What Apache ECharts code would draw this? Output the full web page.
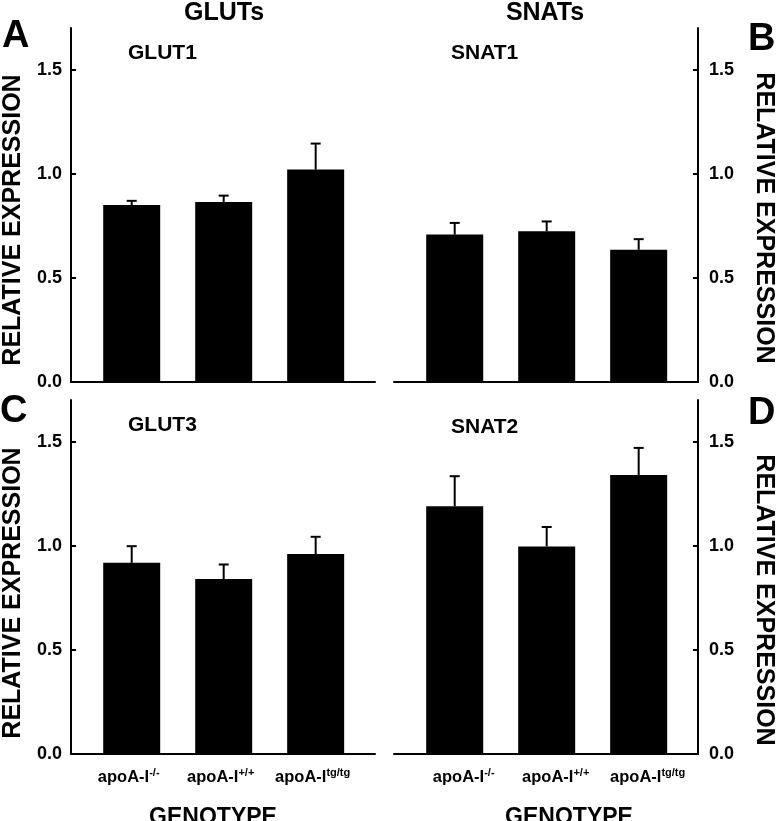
<!DOCTYPE html>
<html><head><meta charset="utf-8">
<script src="https://cdn.jsdelivr.net/npm/echarts@6/dist/echarts.min.js"></script>
<style>html,body{margin:0;padding:0;background:#fff}#c{width:776px;height:821px}</style>
</head><body><div id="c"></div>
<script>
// ---- data ----
const catBase = 'apoA-I';
const catSup = ['-/-', '+/+', 'tg/tg'];
const yTicks = [0, 0.5, 1.0, 1.5];
const glut1 = [0.85, 0.865, 1.02];
const glut1Err = [0.02, 0.03, 0.125];
const snat1 = [0.708, 0.724, 0.635];
const snat1Err = [0.056, 0.047, 0.051];
const glut3 = [0.918, 0.84, 0.96];
const glut3Err = [0.08, 0.07, 0.083];
const snat2 = [1.19, 0.997, 1.34];
const snat2Err = [0.144, 0.093, 0.13];

const FONT = '"Liberation Sans", Arial, sans-serif';
const chart = echarts.init(document.getElementById('c'), null, {renderer: 'canvas'});

const grids = [
  {left: 71, top: 28, width: 304, height: 354},
  {left: 394, top: 28, width: 304, height: 354},
  {left: 71, top: 400, width: 304, height: 354},
  {left: 394, top: 400, width: 304, height: 354}
];
const panels = [
  {vals: glut1, err: glut1Err, right: false, labels: false},
  {vals: snat1, err: snat1Err, right: true, labels: false},
  {vals: glut3, err: glut3Err, right: false, labels: true},
  {vals: snat2, err: snat2Err, right: true, labels: true}
];

const xAxes = [], yAxes = [], series = [];
panels.forEach((p, i) => {
  xAxes.push({
    type: 'value', gridIndex: i, min: -0.66, max: 2.645,
    axisLine: {show: true, onZero: false, lineStyle: {color: '#000', width: 2}},
    axisTick: {show: false},
    splitLine: {show: false},
    axisLabel: {
      show: p.labels,
      customValues: [0, 1, 2],
      margin: 13,
      padding: p.right ? [0, 0, 0, 18] : [0, 6, 0, 0],
      formatter: v => '{b|' + catBase + '}{s|' + catSup[Math.round(v)] + '}',
      rich: {
        b: {fontFamily: FONT, fontWeight: 'bold', fontSize: 16.5, lineHeight: 20, color: '#000'},
        s: {fontFamily: FONT, fontWeight: 'bold', fontSize: 11, lineHeight: 20, color: '#000', verticalAlign: 'top', padding: [0, 0, 11, 0]}
      }
    }
  });
  yAxes.push({
    type: 'value', gridIndex: i, min: 0, max: 1.7,
    position: p.right ? 'right' : 'left',
    axisLine: {show: true, onZero: false, lineStyle: {color: '#000', width: 2}},
    axisTick: {show: true, inside: true, length: 5, customValues: yTicks, lineStyle: {color: '#000', width: 2}},
    splitLine: {show: false},
    axisLabel: {
      customValues: yTicks, margin: p.right ? 11 : 9,
      formatter: v => v.toFixed(1),
      fontFamily: FONT, fontWeight: 'bold', fontSize: 18, color: '#000'
    }
  });
  series.push({
    type: 'bar', xAxisIndex: i, yAxisIndex: i, barWidth: 57,
    itemStyle: {color: '#000'},
    data: p.vals.map((v, k) => [k, v])
  });
  series.push({
    type: 'custom', xAxisIndex: i, yAxisIndex: i,
    data: p.vals.map((v, k) => [k, v, p.err[k]]),
    renderItem: (params, api) => {
      const x = api.value(0), v = api.value(1), e = api.value(2);
      const p0 = api.coord([x, v]);
      const p1 = api.coord([x, v + e]);
      return {type: 'group', children: [
        {type: 'line', shape: {x1: p0[0], y1: p0[1], x2: p1[0], y2: p1[1]}, style: {stroke: '#000', lineWidth: 2}},
        {type: 'line', shape: {x1: p1[0] - 5, y1: p1[1], x2: p1[0] + 5, y2: p1[1]}, style: {stroke: '#000', lineWidth: 2}}
      ]};
    }
  });
});

function txt(text, x, y, size, align, rot) {
  return {type: 'text', x: x, y: y, rotation: rot || 0, silent: true,
    style: {text: text, font: 'bold ' + size + 'px ' + FONT, fill: '#000', align: align || 'left', verticalAlign: 'middle'}};
}

const graphics = [
  txt('GLUTs', 224, 13, 25, 'center'),
  txt('SNATs', 545, 13, 25, 'center'),
  txt('GLUT1', 128, 53, 21, 'left'),
  txt('SNAT1', 451, 53, 21, 'left'),
  txt('GLUT3', 128, 425, 21, 'left'),
  txt('SNAT2', 451, 427, 21, 'left'),
  txt('A', 2, 37, 38, 'left'),
  txt('B', 748, 40, 38, 'left'),
  txt('C', 0, 412, 38, 'left'),
  txt('D', 748, 414, 38, 'left'),
  txt('RELATIVE EXPRESSION', 13, 220, 25, 'center', Math.PI / 2),
  txt('RELATIVE EXPRESSION', 764, 218, 25, 'center', -Math.PI / 2),
  txt('RELATIVE EXPRESSION', 13, 593, 25, 'center', Math.PI / 2),
  txt('RELATIVE EXPRESSION', 764, 600, 25, 'center', -Math.PI / 2),
  txt('GENOTYPE', 213, 818, 23, 'center'),
  txt('GENOTYPE', 569, 818, 23, 'center')
];

chart.setOption({
  animation: false,
  backgroundColor: '#fff',
  grid: grids,
  xAxis: xAxes,
  yAxis: yAxes,
  series: series,
  graphic: graphics
});
</script>
</body></html>
